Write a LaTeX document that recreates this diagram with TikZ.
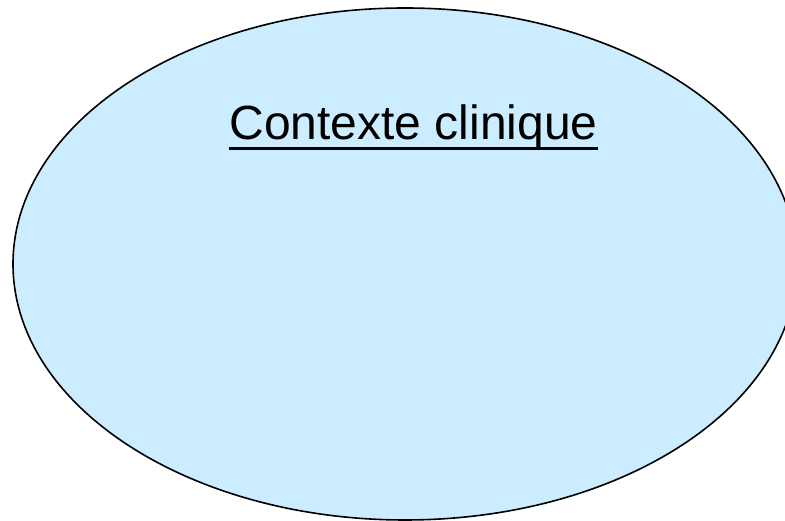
\documentclass[tikz,border=0pt]{standalone}
\usepackage{fontspec}
\setmainfont{Liberation Sans}
\definecolor{ellfill}{RGB}{204,236,255}
\tikzset{
  ctxellipse/.style={fill=ellfill, draw=black, line width=1.6pt},
  titletext/.style={inner sep=0pt, anchor=base, font=\fontsize{48}{57}\selectfont},
  uline/.style={line width=3pt}
}
\begin{document}
\begin{tikzpicture}[x=1pt,y=1pt]
\useasboundingbox (0,0) rectangle (785,521);
\clip (0,0) rectangle (785,521);
\draw[ctxellipse] (405,257) ellipse [x radius=392, y radius=256];
\node[titletext] (t) at (413.5,381) {Contexte clinique};
\draw[uline] ([yshift=-8.5pt]t.base west) -- ([yshift=-8.5pt]t.base east);
\end{tikzpicture}
\end{document}
